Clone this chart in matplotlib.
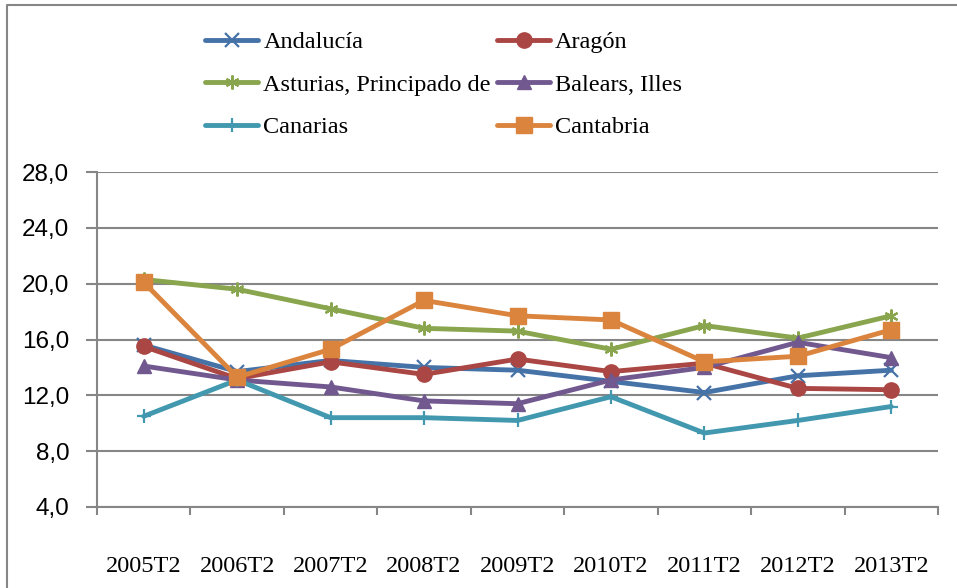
import matplotlib.pyplot as plt
from matplotlib.lines import Line2D

periods = ['2005T2', '2006T2', '2007T2', '2008T2', '2009T2',
           '2010T2', '2011T2', '2012T2', '2013T2']

andalucia = [15.6, 13.7, 14.5, 14.0, 13.8, 13.0, 12.2, 13.4, 13.8]
aragon = [15.5, 13.2, 14.4, 13.5, 14.6, 13.7, 14.3, 12.5, 12.4]
asturias = [20.3, 19.6, 18.2, 16.8, 16.6, 15.3, 17.0, 16.1, 17.7]
baleares = [14.1, 13.1, 12.6, 11.6, 11.4, 13.1, 14.0, 15.8, 14.7]
canarias = [10.5, 13.1, 10.4, 10.4, 10.2, 11.9, 9.3, 10.2, 11.2]
cantabria = [20.1, 13.3, 15.3, 18.8, 17.7, 17.4, 14.4, 14.8, 16.7]

names = ['Andalucía', 'Aragón', 'Asturias, Principado de', 'Balears, Illes',
         'Canarias', 'Cantabria']
yticks = [4, 8, 12, 16, 20, 24, 28]

W, H = 957, 588
fig = plt.figure(figsize=(W / 100, H / 100), dpi=100)
ax = fig.add_axes([97 / W, 1 - 507 / H, (938 - 97) / W, (507 - 172) / H])

# series styles (Excel 2007 palette)
styles = [
    dict(color='#4572A7', marker='x', ms=9.5, mew=1.6),
    dict(color='#AA4643', marker='o', ms=11),
    dict(color='#89A54E', marker=(6, 2, 0), ms=10, mew=1.6),
    dict(color='#71588F', marker='^', ms=10),
    dict(color='#4198AF', marker='+', ms=10, mew=1.6),
    dict(color='#DB843D', marker='s', ms=11),
]
series = [andalucia, aragon, asturias, baleares, canarias, cantabria]

x = range(len(periods))
lines = []
for name, vals, st in zip(names, series, styles):
    ln, = ax.plot(x, vals, label=name, color=st['color'], lw=3.5,
                  marker=st['marker'], markersize=st['ms'],
                  markeredgewidth=st.get('mew', 1.0),
                  markeredgecolor=st['color'], solid_capstyle='round')
    lines.append(ln)

grey = '#868686'
ax.set_ylim(4, 28)
ax.set_xlim(-0.5, len(periods) - 0.5)
ax.set_yticks(yticks)
ax.set_yticklabels([f'{v:.1f}'.replace('.', ',') for v in yticks],
                   family='Liberation Sans', fontsize=17.5)
ax.yaxis.grid(True, color=grey, lw=1.5)
ax.set_axisbelow(True)

ax.set_xticks(x)
ax.set_xticklabels(periods, family='Liberation Serif', fontsize=17.5)
ax.set_xticks([i - 0.5 for i in range(len(periods) + 1)], minor=True)
ax.tick_params(axis='x', which='major', length=0, pad=35)
ax.tick_params(axis='x', which='minor', length=6, width=1.5, color=grey)
ax.tick_params(axis='y', length=8, width=1.5, color=grey, pad=12)

for s in ['top', 'right']:
    ax.spines[s].set_visible(False)
for s in ['left', 'bottom']:
    ax.spines[s].set_color(grey)
    ax.spines[s].set_linewidth(1.5)

# legend reads row by row, so reorder for column filling
order = [0, 2, 4, 1, 3, 5]
fig.legend([lines[i] for i in order], [names[i] for i in order],
           loc='upper left', bbox_to_anchor=(205 / W, 1 - 31 / H), ncol=2,
           frameon=False, prop={'family': 'Liberation Serif', 'size': 17.5},
           handlelength=2.2, handletextpad=0.2, columnspacing=0.25,
           labelspacing=0.85, borderpad=0, borderaxespad=0, numpoints=1)

# chart border (left and top edges visible)
bx, by = 7.5 / W, 1 - 4.5 / H
fig.add_artist(Line2D([bx, bx, 1], [0, by, by], color=grey, lw=1.5,
                      transform=fig.transFigure))

fig.savefig('out.png', dpi=100)
